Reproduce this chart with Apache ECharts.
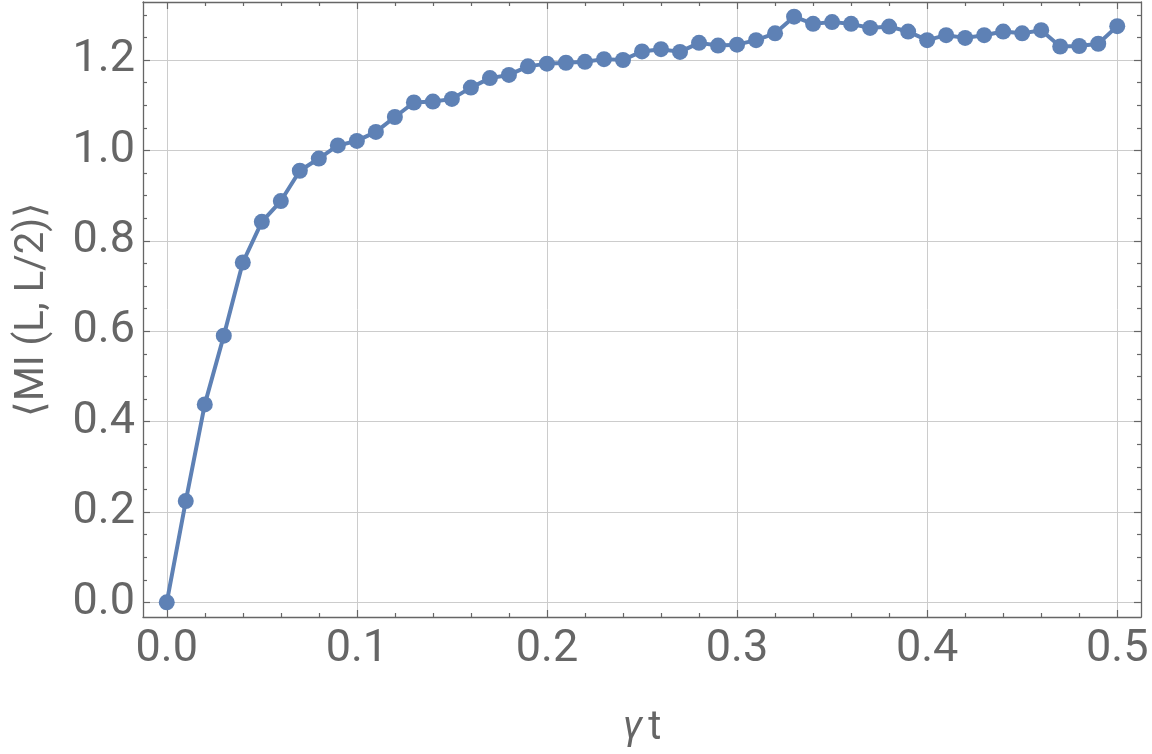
<!DOCTYPE html>
<html>
<head>
<meta charset="utf-8">
<script src="https://cdn.jsdelivr.net/npm/echarts@6/dist/echarts.min.js"></script>
<style>
  html, body { margin: 0; padding: 0; background: #ffffff; }
  #chart { width: 1152px; height: 754px; }
</style>
</head>
<body>
<div id="chart"></div>
<script>
// ---- data ----
const xValues = [0.00, 0.01, 0.02, 0.03, 0.04, 0.05, 0.06, 0.07, 0.08, 0.09,
                 0.10, 0.11, 0.12, 0.13, 0.14, 0.15, 0.16, 0.17, 0.18, 0.19,
                 0.20, 0.21, 0.22, 0.23, 0.24, 0.25, 0.26, 0.27, 0.28, 0.29,
                 0.30, 0.31, 0.32, 0.33, 0.34, 0.35, 0.36, 0.37, 0.38, 0.39,
                 0.40, 0.41, 0.42, 0.43, 0.44, 0.45, 0.46, 0.47, 0.48, 0.49, 0.50];
const miValues = [0.000, 0.224, 0.438, 0.590, 0.752, 0.842, 0.888, 0.955, 0.982, 1.011,
                  1.021, 1.041, 1.074, 1.106, 1.108, 1.114, 1.139, 1.160, 1.167, 1.186,
                  1.192, 1.194, 1.196, 1.202, 1.200, 1.219, 1.224, 1.218, 1.238, 1.232,
                  1.234, 1.244, 1.259, 1.296, 1.280, 1.284, 1.280, 1.271, 1.274, 1.263,
                  1.244, 1.255, 1.249, 1.255, 1.263, 1.259, 1.266, 1.230, 1.231, 1.236, 1.275];

const xMajorTicks = [0, 0.1, 0.2, 0.3, 0.4, 0.5];
const xTickLabels = ['0.0', '0.1', '0.2', '0.3', '0.4', '0.5'];
const xMinorTicks = [0.02, 0.04, 0.06, 0.08, 0.12, 0.14, 0.16, 0.18, 0.22, 0.24, 0.26, 0.28,
                     0.32, 0.34, 0.36, 0.38, 0.42, 0.44, 0.46, 0.48];
const yMajorTicks = [0, 0.2, 0.4, 0.6, 0.8, 1.0, 1.2];
const yTickLabels = ['0.0', '0.2', '0.4', '0.6', '0.8', '1.0', '1.2'];
const yMinorTicks = [0.05, 0.1, 0.15, 0.25, 0.3, 0.35, 0.45, 0.5, 0.55, 0.65, 0.7, 0.75,
                     0.85, 0.9, 0.95, 1.05, 1.1, 1.15, 1.25, 1.3];

const xLabel = 'γt';
const yLabel = '⟨MI (L, L/2)⟩';

// ---- styling ----
const FONT = 'Roboto';
const TXT = '#666666';
const FRAME = '#666666';
const GRIDC = '#cccccc';
const LINEC = '#5e81b5';

const xRange = [-0.0125, 0.5125];
const yRange = [-0.0324, 1.3284];

function labelFor(values, labels) {
  return function (v) {
    for (let i = 0; i < values.length; i++) {
      if (Math.abs(values[i] - v) < 1e-9) return labels[i];
    }
    return '';
  };
}

function axis(dim, pos, opts) {
  const a = {
    type: 'value',
    position: pos,
    min: dim === 'x' ? xRange[0] : yRange[0],
    max: dim === 'x' ? xRange[1] : yRange[1],
    axisLine: { show: !!opts.line, onZero: false, lineStyle: { color: FRAME, width: 1.3 } },
    axisTick: {
      show: true, inside: true, length: opts.tickLen,
      customValues: opts.ticks,
      lineStyle: { color: FRAME, width: 1.2 }
    },
    axisLabel: { show: false },
    splitLine: { show: false },
    z: opts.z || 2
  };
  return a;
}

const xMain = axis('x', 'bottom', { line: true, tickLen: 7, ticks: xMajorTicks, z: 3 });
xMain.splitNumber = 5;
xMain.splitLine = { show: true, lineStyle: { color: GRIDC, width: 1 } };
xMain.axisLabel = {
  show: true, customValues: xMajorTicks, formatter: labelFor(xMajorTicks, xTickLabels),
  fontFamily: FONT, fontSize: 45, color: TXT, margin: 10
};
xMain.name = '{g|γ}{t|t}';
xMain.nameLocation = 'middle';
xMain.nameGap = 92;
xMain.nameTextStyle = {
  rich: {
    g: { fontFamily: FONT, fontSize: 40, fontStyle: 'italic', color: TXT },
    t: { fontFamily: FONT, fontSize: 40, color: TXT, padding: [0, 0, 0, 6] }
  }
};

const yMain = axis('y', 'left', { line: true, tickLen: 7, ticks: yMajorTicks, z: 3 });
yMain.splitNumber = 6;
yMain.minInterval = 0.2;
yMain.maxInterval = 0.2;
yMain.splitLine = { show: true, lineStyle: { color: GRIDC, width: 1 } };
yMain.axisLabel = {
  show: true, customValues: yMajorTicks, formatter: labelFor(yMajorTicks, yTickLabels),
  fontFamily: FONT, fontSize: 45, color: TXT, margin: 8
};
yMain.name = yLabel;
yMain.nameLocation = 'middle';
yMain.nameRotate = 90;
yMain.nameGap = 90;
yMain.nameTextStyle = { fontFamily: FONT, fontSize: 40, color: TXT };

const option = {
  animation: false,
  backgroundColor: '#ffffff',
  grid: { left: 143, right: 11, top: 2, bottom: 136, containLabel: false },
  xAxis: [
    xMain,
    axis('x', 'bottom', { line: false, tickLen: 4, ticks: xMinorTicks }),
    axis('x', 'top', { line: true, tickLen: 7, ticks: xMajorTicks, z: 3 }),
    axis('x', 'top', { line: false, tickLen: 4, ticks: xMinorTicks })
  ],
  yAxis: [
    yMain,
    axis('y', 'left', { line: false, tickLen: 4, ticks: yMinorTicks }),
    axis('y', 'right', { line: true, tickLen: 7, ticks: yMajorTicks, z: 3 }),
    axis('y', 'right', { line: false, tickLen: 4, ticks: yMinorTicks })
  ],
  series: [{
    type: 'line',
    xAxisIndex: 0,
    yAxisIndex: 0,
    data: xValues.map((x, i) => [x, miValues[i]]),
    symbol: 'circle',
    symbolSize: 16,
    showSymbol: true,
    lineStyle: { color: LINEC, width: 4 },
    itemStyle: { color: LINEC },
    z: 5
  }]
};

const chart = echarts.init(document.getElementById('chart'), null, { renderer: 'canvas' });
chart.setOption(option);
</script>
</body>
</html>
